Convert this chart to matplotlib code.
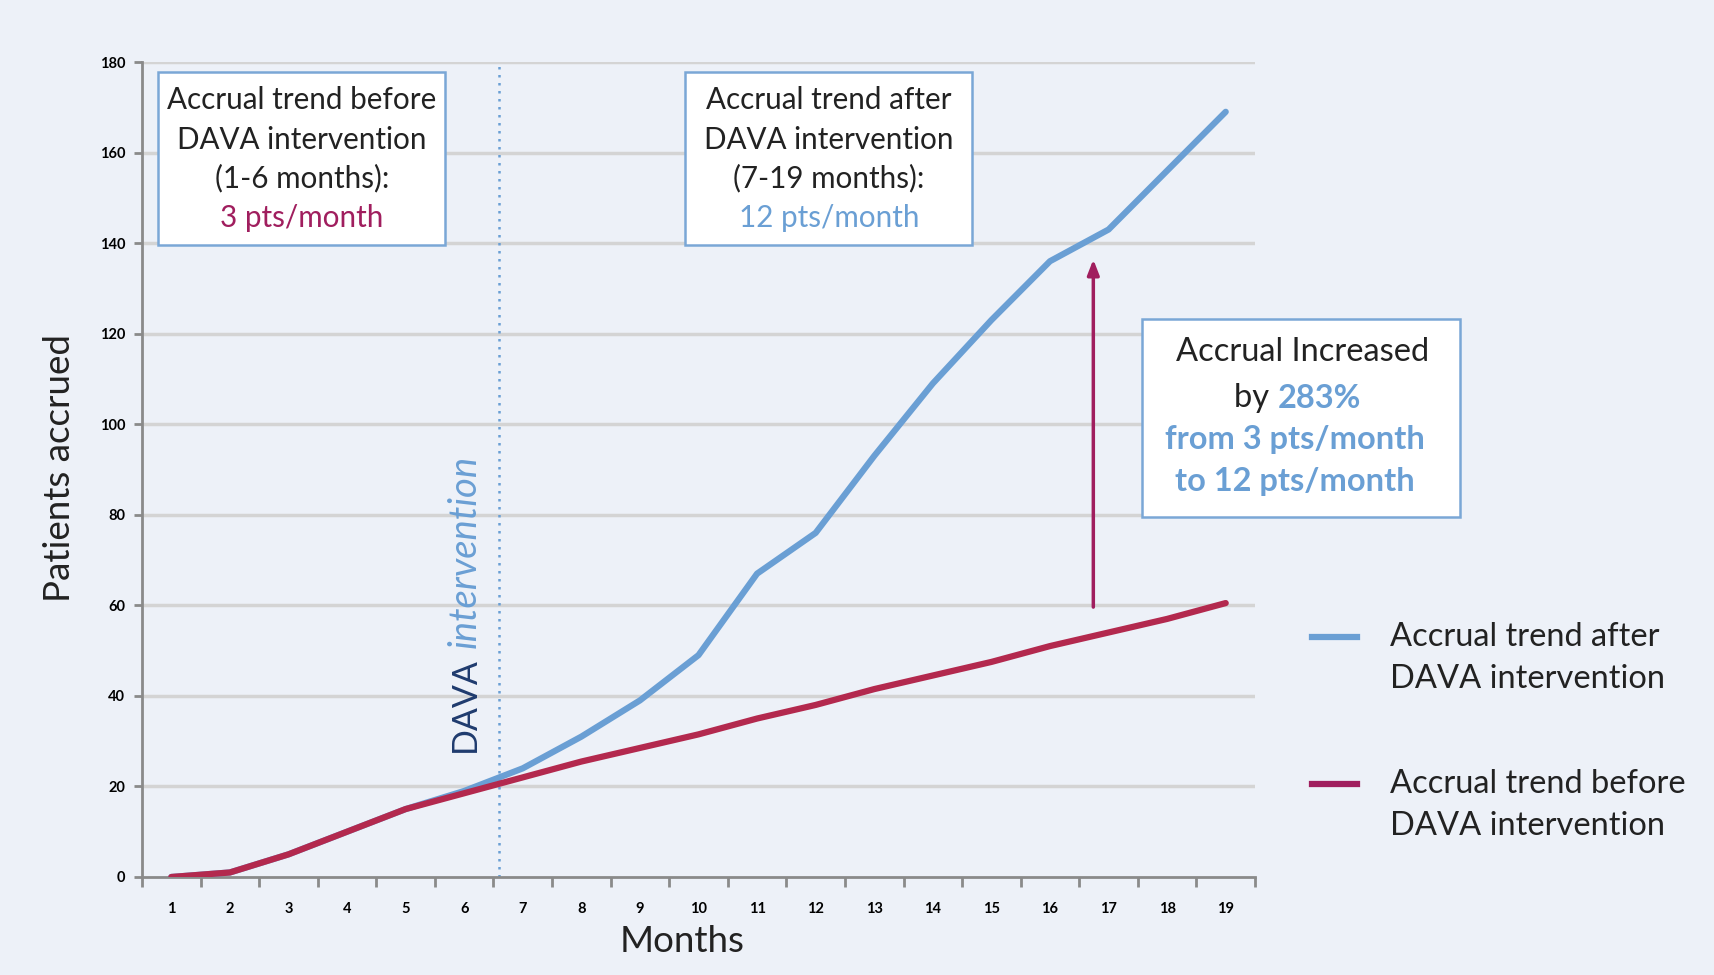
# accrual trend before / after DAVA intervention

import numpy as np
import matplotlib.pyplot as plt
from matplotlib.patches import Rectangle

months = np.arange(1, 20)
after = [0, 1, 5, 10, 15, 19, 24, 31, 39, 49, 67, 76, 93, 109, 123, 136, 143, 156, 169]
before = [0, 1, 5, 10, 15, 18.5, 22, 25.5, 28.5, 31.5, 35, 38, 41.5, 44.5, 47.5, 51, 54, 57, 60.5]
yticks = np.arange(0, 181, 20)

W, H = 1714, 975
bg = "#edf1f8"
blue = "#6a9fd4"
red = "#b3294e"
mag = "#a01e5e"
navy = "#1f3b6e"

plt.rcParams['font.family'] = ['Lato', 'DejaVu Sans']

fig = plt.figure(figsize=(W / 100, H / 100), dpi=100, facecolor=bg)

def fx(px):
    return px / W

def fy(py):
    return 1 - py / H

ax = fig.add_axes([fx(142), fy(877), fx(1255 - 142), (877 - 62) / H])
ax.set_facecolor(bg)
ax.set_xlim(0.5, 19.5)
ax.set_ylim(0, 180)

for y in yticks[1:]:
    ax.axhline(y, color="#d4d4d4", lw=2.5, zorder=0)

ax.plot(months, after, color=blue, lw=4.5, solid_capstyle='round', zorder=3)
ax.plot(months, before, color=red, lw=4.5, solid_capstyle='round', zorder=4)
ax.axvline(6.6, color=blue, lw=1.8, ls=(0, (1, 2.2)), zorder=2)

for s in ["top", "right"]:
    ax.spines[s].set_visible(False)
for s in ["left", "bottom"]:
    ax.spines[s].set_color("#8a8a8a")
    ax.spines[s].set_linewidth(2)

ax.set_yticks(yticks)
ax.set_yticklabels([str(v) for v in yticks], fontsize=10.5, fontweight='bold')
ax.set_xticks(months)
ax.set_xticklabels([str(m) for m in months], fontsize=10.5, fontweight='bold')
ax.set_xticks(np.arange(0.5, 20, 1), minor=True)
ax.tick_params(axis='y', length=6, width=2, color="#8a8a8a", pad=6)
ax.tick_params(axis='x', which='major', length=0, pad=18)
ax.tick_params(axis='x', which='minor', length=7, width=2, color="#8a8a8a")

fig.text(fx(60), fy(468), "Patients accrued", rotation=90, ha='center', va='center',
         fontsize=26.5, color="#222222")
fig.text(fx(682), fy(942), "Months", ha='center', va='center', fontsize=26.5, color="#222222")

# DAVA intervention label
fig.text(fx(465), fy(752), "DAVA", rotation=90, ha='center', va='bottom',
         fontsize=24.5, color=navy)
fig.text(fx(465), fy(648), "intervention", rotation=90, ha='center', va='bottom',
         fontsize=27.5, color=blue, style='italic')

# arrow
ax.annotate("", xy=(16.74, 137), xytext=(16.74, 59),
            arrowprops=dict(arrowstyle="-|>,head_length=0.9,head_width=0.35",
                            color=mag, lw=2.5), zorder=5)

def box(x0, y0, x1, y1):
    fig.patches.append(Rectangle((fx(x0), fy(y1)), fx(x1 - x0), (y1 - y0) / H,
                                 transform=fig.transFigure, facecolor="white",
                                 edgecolor="#7aa7d6", lw=1.8, zorder=6))

def line(x, y, s, color="#222222", weight='normal', ha='center', size=21.3):
    fig.text(fx(x), fy(y), s, ha=ha, va='center', fontsize=size, color=color,
             fontweight=weight, zorder=7)

box(158, 72, 445, 245)
line(302, 100, "Accrual trend before")
line(302, 140, "DAVA intervention")
line(302, 178, "(1-6 months):")
line(302, 218, "3 pts/month", color=mag)

box(685, 72, 972, 245)
line(829, 100, "Accrual trend after")
line(829, 140, "DAVA intervention")
line(829, 178, "(7-19 months):")
line(829, 218, "12 pts/month", color=blue)

box(1142, 319, 1460, 517)
line(1303, 352, "Accrual Increased", size=23.5)
fig.text(fx(1278), fy(398), "by ", ha='right', va='center', fontsize=23.5,
         color="#222222", zorder=7)
fig.text(fx(1278), fy(398), "283%", ha='left', va='center', fontsize=23.5,
         color=blue, fontweight='bold', zorder=7)
line(1295, 439, "from 3 pts/month", color=blue, weight='bold', size=23.5)
line(1295, 481, "to 12 pts/month", color=blue, weight='bold', size=23.5)

# legend
for yy, c, l1 in [(637, blue, "Accrual trend after"), (784, mag, "Accrual trend before")]:
    fig.add_artist(plt.Line2D([fx(1312), fx(1357)], [fy(yy), fy(yy)], color=c, lw=4.5,
                              transform=fig.transFigure))
    fig.text(fx(1390), fy(yy), l1, ha='left', va='center', fontsize=23.5, color="#222222")
    fig.text(fx(1390), fy(yy + 42), "DAVA intervention", ha='left', va='center',
             fontsize=23.5, color="#222222")

plt.savefig("out.png", dpi=100, facecolor=bg)
